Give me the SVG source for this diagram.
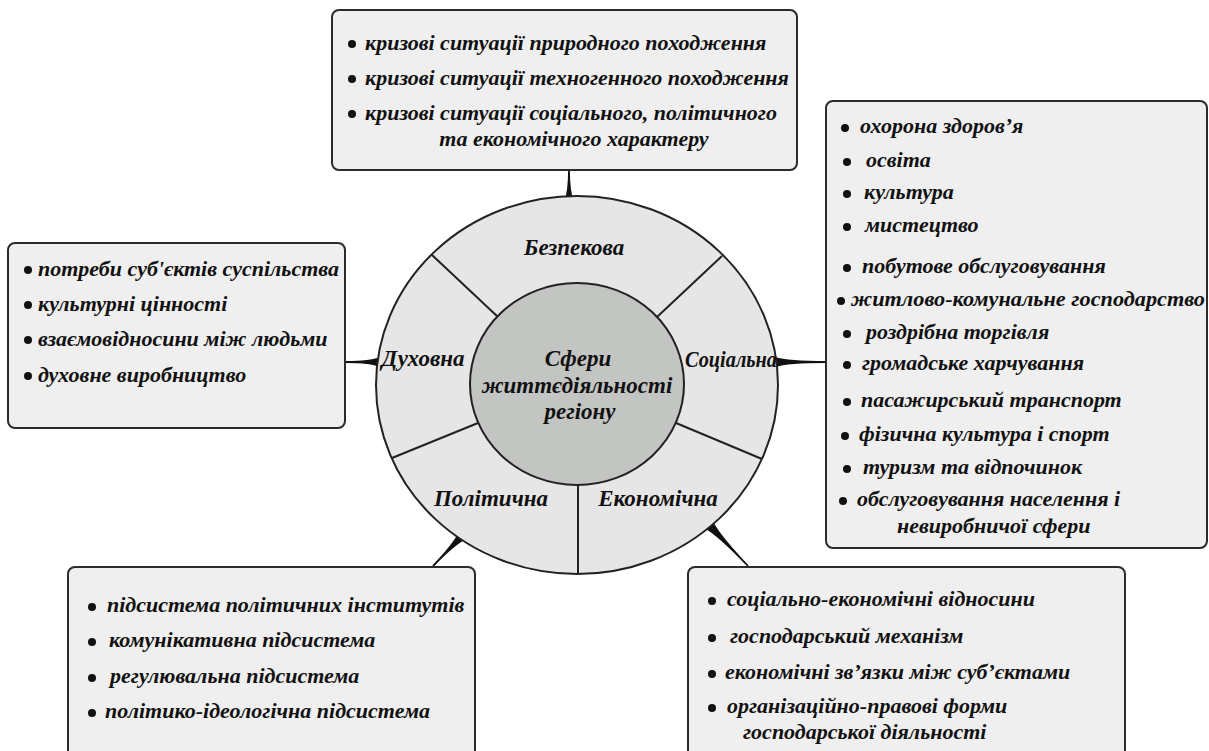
<svg xmlns="http://www.w3.org/2000/svg" width="1209" height="751" viewBox="0 0 1209 751">
<style>
.box{fill:#efefef;stroke:#2b2b2b;stroke-width:2}
.t{font-family:"Liberation Serif","Times New Roman",serif;font-weight:bold;font-style:italic;font-size:22px;fill:#111}
.lbl{font-family:"Liberation Serif","Times New Roman",serif;font-weight:bold;font-style:italic;font-size:23px;fill:#111}
.ctr{font-family:"Liberation Serif","Times New Roman",serif;font-weight:bold;font-style:italic;font-size:23px;fill:#111}
.b{fill:#111}
.spk{fill:#111}
.ring{fill:#e6e6e6;stroke:#222;stroke-width:2}
.core{fill:#c3c5c2;stroke:#222;stroke-width:2}
.div{stroke:#222;stroke-width:2}
</style>
<rect width="1209" height="751" fill="#ffffff"/>
<g id="connectors">
<path class="spk" transform="translate(569,170) rotate(90)" d="M0,-0.9 Q22,-0.9 32,-5 L32,5 Q22,0.9 0,0.9 Z"/>
<path class="spk" transform="translate(826,362) rotate(180)" d="M0,-0.9 Q38,-0.9 51,-5 L51,5 Q38,0.9 0,0.9 Z"/>
<path class="spk" transform="translate(346,362)" d="M0,-0.9 Q24,-0.9 34,-5 L34,5 Q24,0.9 0,0.9 Z"/>
<path class="spk" transform="translate(433,566) rotate(-46)" d="M0,-0.9 Q30,-0.9 42,-5 L42,5 Q30,0.9 0,0.9 Z"/>
<path class="spk" transform="translate(748,566) rotate(-133.5)" d="M0,-0.9 Q40,-0.9 55,-5 L55,5 Q40,0.9 0,0.9 Z"/>
</g>
<g id="wheel">
<ellipse class="ring" cx="577" cy="385" rx="201" ry="189"/>
<line class="div" x1="432" y1="255" x2="498" y2="317"/>
<line class="div" x1="722" y1="256" x2="657" y2="317"/>
<line class="div" x1="392" y1="458" x2="478" y2="423"/>
<line class="div" x1="762" y1="459" x2="676" y2="423"/>
<line class="div" x1="578" y1="485" x2="578" y2="574"/>
<ellipse class="core" cx="577" cy="384" rx="107" ry="101"/>
</g>
<g id="center">
<text class="ctr" text-anchor="middle" x="578" y="366">Сфери</text>
<text class="ctr" text-anchor="middle" x="577" y="393">життєдіяльності</text>
<text class="ctr" text-anchor="middle" x="580" y="419">регіону</text>
</g>
<g id="sector-bezpekova"><text class="lbl" text-anchor="middle" x="574" y="255">Безпекова</text></g>
<g id="sector-dukhovna"><text class="lbl" text-anchor="middle" x="423" y="366">Духовна</text></g>
<g id="sector-sotsialna"><text class="lbl" x="685" y="367" textLength="92" lengthAdjust="spacingAndGlyphs">Соціальна</text></g>
<g id="sector-politychna"><text class="lbl" text-anchor="middle" x="491" y="506">Політична</text></g>
<g id="sector-ekonomichna"><text class="lbl" text-anchor="middle" x="658" y="506">Економічна</text></g>
<g id="box-top">
<rect class="box" x="332" y="10" width="465" height="160" rx="7"/>
<circle class="b" cx="352" cy="44" r="4"/><text class="t" x="365" y="50">кризові ситуації природного походження</text>
<circle class="b" cx="352" cy="79" r="4"/><text class="t" x="365" y="85">кризові ситуації техногенного походження</text>
<circle class="b" cx="352" cy="114" r="4"/><text class="t" x="365" y="120">кризові ситуації соціального, політичного</text>
<text class="t" text-anchor="middle" x="574" y="146">та економічного характеру</text>
</g>
<g id="box-left">
<rect class="box" x="8" y="243" width="337" height="185" rx="7"/>
<circle class="b" cx="28" cy="270" r="4"/><text class="t" x="38" y="276">потреби суб'єктів суспільства</text>
<circle class="b" cx="28" cy="305" r="4"/><text class="t" x="38" y="311">культурні цінності</text>
<circle class="b" cx="28" cy="340" r="4"/><text class="t" x="38" y="346">взаємовідносини між людьми</text>
<circle class="b" cx="28" cy="376" r="4"/><text class="t" x="38" y="382">духовне виробництво</text>
</g>
<g id="box-right">
<rect class="box" x="826" y="101" width="381" height="447" rx="7"/>
<circle class="b" cx="845" cy="128" r="4"/><text class="t" x="860" y="133">охорона здоров’я</text>
<circle class="b" cx="847" cy="162" r="4"/><text class="t" x="866" y="167">освіта</text>
<circle class="b" cx="847" cy="194" r="4"/><text class="t" x="864" y="199">культура</text>
<circle class="b" cx="847" cy="227" r="4"/><text class="t" x="865" y="232">мистецтво</text>
<circle class="b" cx="847" cy="268" r="4"/><text class="t" x="862" y="273">побутове обслуговування</text>
<circle class="b" cx="841" cy="301" r="4"/><text class="t" x="851" y="306" textLength="354" lengthAdjust="spacingAndGlyphs">житлово-комунальне господарство</text>
<circle class="b" cx="847" cy="334" r="4"/><text class="t" x="866" y="339">роздрібна торгівля</text>
<circle class="b" cx="847" cy="365" r="4"/><text class="t" x="862" y="370">громадське харчування</text>
<circle class="b" cx="847" cy="402" r="4"/><text class="t" x="861" y="407">пасажирський транспорт</text>
<circle class="b" cx="845" cy="436" r="4"/><text class="t" x="859" y="441">фізична культура і спорт</text>
<circle class="b" cx="847" cy="469" r="4"/><text class="t" x="863" y="474">туризм та відпочинок</text>
<circle class="b" cx="843" cy="501" r="4"/><text class="t" x="857" y="506">обслуговування населення і</text>
<text class="t" x="897" y="533">невиробничої сфери</text>
</g>
<g id="box-bottom-left">
<rect class="box" x="68" y="567" width="407" height="190" rx="7"/>
<circle class="b" cx="92" cy="607" r="4"/><text class="t" x="107" y="612">підсистема політичних інститутів</text>
<circle class="b" cx="92" cy="642" r="4"/><text class="t" x="109" y="647">комунікативна підсистема</text>
<circle class="b" cx="92" cy="678" r="4"/><text class="t" x="110" y="683">регулювальна підсистема</text>
<circle class="b" cx="92" cy="713" r="4"/><text class="t" x="105" y="718">політико-ідеологічна підсистема</text>
</g>
<g id="box-bottom-right">
<rect class="box" x="688" y="567" width="437" height="190" rx="7"/>
<circle class="b" cx="712" cy="601" r="4"/><text class="t" x="727" y="606">соціально-економічні відносини</text>
<circle class="b" cx="712" cy="638" r="4"/><text class="t" x="730" y="643">господарський механізм</text>
<circle class="b" cx="712" cy="674" r="4"/><text class="t" x="725" y="679">економічні зв’язки між суб’єктами</text>
<circle class="b" cx="712" cy="708" r="4"/><text class="t" x="727" y="713">організаційно-правові форми</text>
<text class="t" x="743" y="739">господарської діяльності</text>
</g>
</svg>
